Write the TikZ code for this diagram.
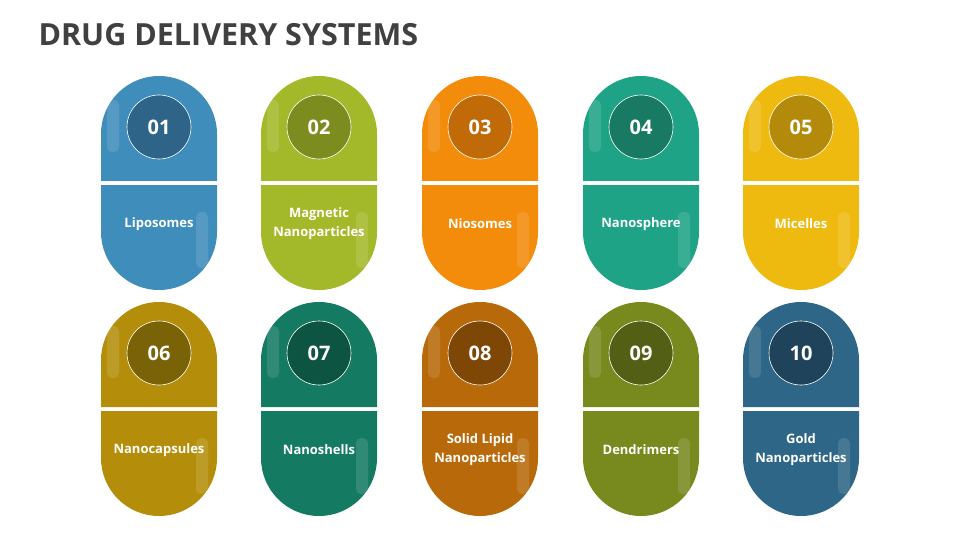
\documentclass[tikz,border=0pt]{standalone}
\usepackage{fontspec}
\setmainfont{Open Sans}
\begin{document}
\begin{tikzpicture}[x=1pt,y=-1pt,
  numtxt/.style={text=white,font=\bfseries\fontsize{20}{22}\selectfont},
  lbl/.style={text=white,font=\bfseries\fontsize{13}{19}\selectfont,align=center},
  ring/.style={draw=white,line width=0.6pt}]
\useasboundingbox[fill=white] (0,0) rectangle (960,540);
\node[anchor=west,text=black!75,font=\bfseries\fontsize{30.5}{33}\selectfont] (title) at (35,35) {DRUG DELIVERY SYSTEMS};
\foreach \cx/\cy/\n/\txt/\mc/\dc [count=\i] in {
 159/0/01/Liposomes/3F8DBB/2E6487,
 319/0/02/{Magnetic\\Nanoparticles}/A3B92A/7D8C1E,
 480/0/03/Niosomes/F38C0A/C06A08,
 641/0/04/Nanosphere/1FA386/187A63,
 801/0/05/Micelles/EFBA10/B48A0A,
 159/226/06/Nanocapsules/B48E0A/7A6207,
 319/226/07/Nanoshells/147A62/0E5443,
 480/226/08/{Solid Lipid\\Nanoparticles}/B8690A/7F4706,
 641/226/09/Dendrimers/78891E/535F14,
 801/226/10/{Gold\\Nanoparticles}/2D6686/1E435A}{
 \definecolor{mc}{HTML}{\mc}\definecolor{dc}{HTML}{\dc}
 \begin{scope}[yshift=-\cy pt]
 \fill[mc] (\cx-58,181) -- (\cx-58,134) arc[start angle=180,end angle=360,radius=58] -- (\cx+58,181) -- cycle;
 \fill[mc] (\cx-58,185) -- (\cx-58,232) arc[start angle=180,end angle=0,radius=58] -- (\cx+58,185) -- cycle;
 \fill[white,opacity=0.12,rounded corners=5] (\cx-52,100) rectangle (\cx-40,152);
 \fill[white,opacity=0.12,rounded corners=5] (\cx+37,212) rectangle (\cx+49,268);
 \node[circle,minimum size=64,fill=dc,ring,numtxt] (n\i) at (\cx,127) {\n};
 \node[lbl] (l\i) at (\cx,224) {\txt};
 \end{scope}
}
\end{tikzpicture}
\end{document}
